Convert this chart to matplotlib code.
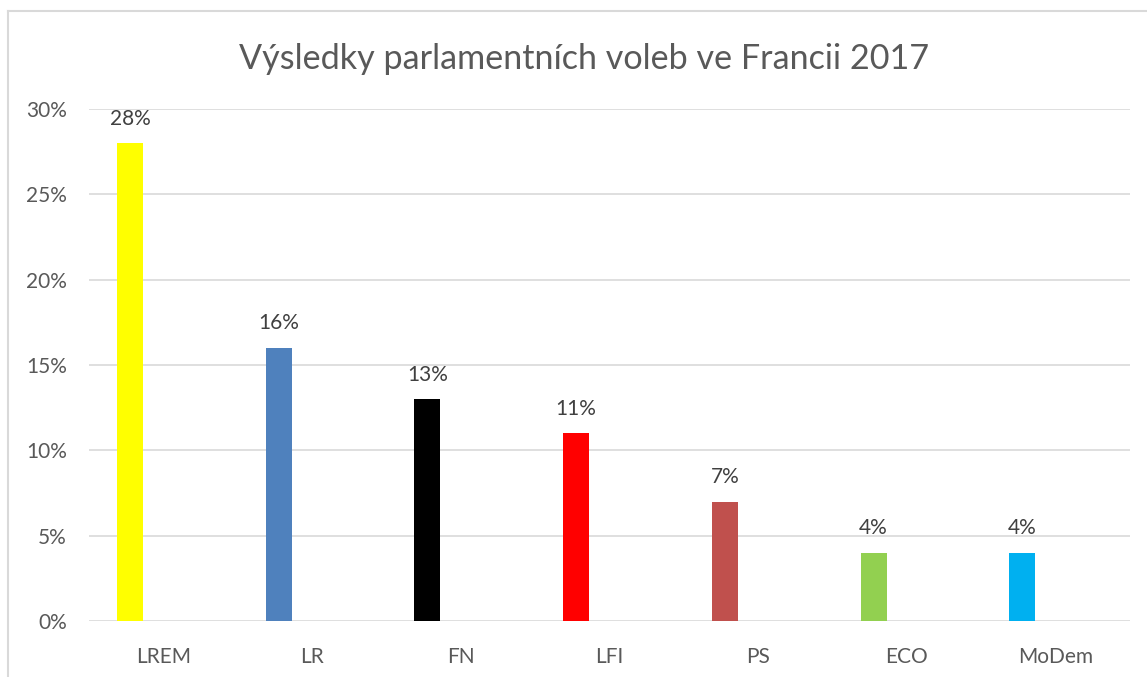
import matplotlib.pyplot as plt
from matplotlib.lines import Line2D

parties = ["LREM", "LR", "FN", "LFI", "PS", "ECO", "MoDem"]
shares = [0.28, 0.16, 0.13, 0.11, 0.07, 0.04, 0.04]
colors = ["#FFFF00", "#4F81BD", "#000000", "#FF0000", "#C0504D", "#92D050", "#00B0F0"]
yticks = [0, 0.05, 0.10, 0.15, 0.20, 0.25, 0.30]
ylabels = ["0%", "5%", "10%", "15%", "20%", "25%", "30%"]

plt.rcParams['font.family'] = ['Lato', 'DejaVu Sans']
txt = "#595959"
grid = "#D9D9D9"

W, H = 1147, 677
fig = plt.figure(figsize=(W / 100, H / 100), dpi=100)
ax = fig.add_axes([89 / W, 1 - 621 / H, (1130 - 89) / W, (621 - 109) / H])

x = list(range(len(parties)))
bx = [i - 0.224 for i in x]
ax.bar(bx, shares, width=0.175, color=colors, zorder=3)
for xi, v in zip(bx, shares):
    ax.text(xi, v + 0.0085, f"{round(v * 100)}%", ha="center", va="bottom",
            fontsize=15, color="#404040")

ax.set_xlim(-0.5, len(parties) - 0.5)
ax.set_ylim(0, 0.30)
ax.set_yticks(yticks)
ax.set_yticklabels(ylabels, fontsize=15, color=txt)
ax.set_xticks(x)
ax.set_xticklabels(parties, fontsize=15, color=txt)
ax.tick_params(length=0)
ax.tick_params(axis="y", pad=16)
ax.tick_params(axis="x", pad=19)
ax.yaxis.grid(True, color=grid, linewidth=1.2, zorder=0)
for s in ax.spines.values():
    s.set_visible(False)

ax.set_title("Výsledky parlamentních voleb ve Francii 2017", fontsize=24.6,
             color=txt, x=(584 - 89) / (1130 - 89), pad=29)

# chart frame (only top and left edges visible)
fig.add_artist(Line2D([8 / W, 8 / W], [0, 1 - 11 / H], transform=fig.transFigure,
                      color=grid, linewidth=1.5))
fig.add_artist(Line2D([8 / W, 1], [1 - 11 / H, 1 - 11 / H], transform=fig.transFigure,
                      color=grid, linewidth=1.5))

fig.savefig("out.png", dpi=100, facecolor="white")
